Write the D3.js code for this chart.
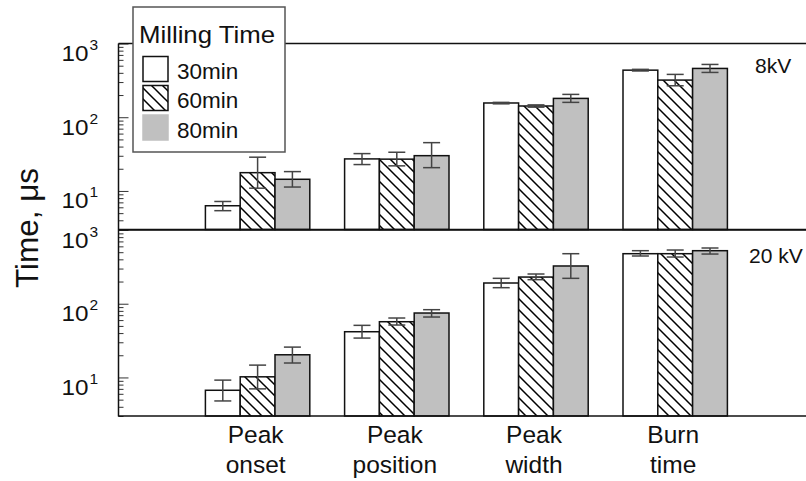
<!DOCTYPE html>
<html>
<head>
<meta charset="utf-8">
<script src="https://cdn.jsdelivr.net/npm/d3@7/dist/d3.min.js"></script>
<style>
  html, body { margin: 0; padding: 0; background: #fff; }
  svg { display: block; font-family: "Liberation Sans", Arial, Helvetica, sans-serif; }
</style>
</head>
<body>
<script>
// Burn characteristics vs. milling time, two ignition voltages
const categories = ["Peak onset", "Peak position", "Peak width", "Burn time"];
const categoryLines = [["Peak", "onset"], ["Peak", "position"], ["Peak", "width"], ["Burn", "time"]];
const series = ["30min", "60min", "80min"];
const panels = ["8kV", "20 kV"];

// 8 kV: mean and error bounds (µs), one array per milling time
const kv8_30 = [6.3, 27.2, 156, 435];
const kv8_60 = [17.7, 27.0, 142, 319];
const kv8_80 = [14.4, 30.1, 180, 459];
const kv8_30_lo = [5.4, 22.8, 152, 424];
const kv8_30_hi = [7.2, 32.1, 159, 446];
const kv8_60_lo = [10.9, 21.9, 137, 267];
const kv8_60_hi = [28.7, 33.5, 147, 381];
const kv8_80_lo = [11.3, 20.7, 159, 405];
const kv8_80_hi = [18.3, 45.2, 204, 520];

// 20 kV
const kv20_30 = [6.7, 41.7, 191, 477];
const kv20_60 = [10.2, 57.0, 230, 477];
const kv20_80 = [20.3, 74.8, 325, 524];
const kv20_30_lo = [4.8, 34.2, 165, 444];
const kv20_30_hi = [9.2, 50.9, 221, 524];
const kv20_60_lo = [7.0, 51.4, 212, 430];
const kv20_60_hi = [14.7, 64.0, 253, 535];
const kv20_80_lo = [15.7, 66.0, 221, 472];
const kv20_80_hi = [25.8, 83.0, 477, 570];

const yDomain = [3, 1000];
const majorTicks = [10, 100, 1000];
const tickExponents = ["1", "2", "3"];

const panelData = [
  { label: panels[0], means: [kv8_30, kv8_60, kv8_80], lo: [kv8_30_lo, kv8_60_lo, kv8_80_lo], hi: [kv8_30_hi, kv8_60_hi, kv8_80_hi] },
  { label: panels[1], means: [kv20_30, kv20_60, kv20_80], lo: [kv20_30_lo, kv20_60_lo, kv20_80_lo], hi: [kv20_30_hi, kv20_60_hi, kv20_80_hi] }
];

const W = 806, H = 481;
const left = 118.5, right = W;
const panelRanges = [[229.5, 43.5], [416, 230]];
const labelPos = [[755, 72.7], [749, 263]];

const svg = d3.select("body").append("svg").attr("width", W).attr("height", H);

// hatch pattern for the 60 min series
const defs = svg.append("defs");
const pat = defs.append("pattern")
  .attr("id", "hatch").attr("patternUnits", "userSpaceOnUse")
  .attr("width", 11).attr("height", 11);
pat.append("rect").attr("width", 11).attr("height", 11).attr("fill", "#fff");
pat.append("path").attr("d", "M0,0 L11,11 M-2,9 L2,13 M9,-2 L13,2")
  .attr("stroke", "#000").attr("stroke-width", 1.5);

const fills = ["#ffffff", "url(#hatch)", "#c0c0c0"];

const x0 = d3.scaleBand().domain(categories).range([188, 744.8]).paddingInner(0.25).paddingOuter(0.125);
const x1 = d3.scaleBand().domain(series).range([0, x0.bandwidth()]);

const minorTicks = [];
[1, 10, 100].forEach(d => { for (let k = 2; k <= 9; k++) { const v = k * d; if (v >= yDomain[0] && v <= yDomain[1]) minorTicks.push(v); } });

panelData.forEach((p, pi) => {
  const y = d3.scaleLog().domain(yDomain).range(panelRanges[pi]);
  const base = y(yDomain[0]);
  const g = svg.append("g");

  // bars
  series.forEach((s, si) => {
    g.selectAll(null).data(categories).join("rect")
      .attr("x", c => x0(c) + x1(s))
      .attr("y", (c, i) => y(p.means[si][i]))
      .attr("width", x1.bandwidth())
      .attr("height", (c, i) => base - y(p.means[si][i]))
      .attr("fill", fills[si])
      .attr("stroke", "#111").attr("stroke-width", 1.5);
  });

  // error bars
  series.forEach((s, si) => {
    const eg = g.selectAll(null).data(categories).join("g")
      .attr("transform", c => `translate(${x0(c) + x1(s) + x1.bandwidth() / 2},0)`)
      .attr("stroke", "#444").attr("stroke-width", 1.5);
    eg.append("line").attr("x1", 0).attr("x2", 0)
      .attr("y1", (c, i) => y(p.hi[si][i])).attr("y2", (c, i) => y(p.lo[si][i]));
    eg.append("line").attr("x1", -8.5).attr("x2", 8.5)
      .attr("y1", (c, i) => y(p.hi[si][i])).attr("y2", (c, i) => y(p.hi[si][i]));
    eg.append("line").attr("x1", -8.5).attr("x2", 8.5)
      .attr("y1", (c, i) => y(p.lo[si][i])).attr("y2", (c, i) => y(p.lo[si][i]));
  });

  // inward ticks on the left spine
  const ax = g.append("g").attr("transform", `translate(${left},0)`);
  ax.call(d3.axisRight(y).tickValues(majorTicks).tickSize(10).tickFormat(""));
  ax.append("g").call(d3.axisRight(y).tickValues(minorTicks).tickSize(5).tickFormat(""));
  ax.selectAll(".domain").remove();
  ax.selectAll(".tick line").attr("stroke", "#333").attr("stroke-width", 1);

  // tick labels 10^n
  majorTicks.forEach((t, ti) => {
    g.append("text").attr("x", 61.5).attr("y", y(t) + 17.5)
      .attr("font-size", 22).attr("textLength", 27).attr("lengthAdjust", "spacingAndGlyphs")
      .attr("fill", "#111").text("10");
    g.append("text").attr("x", 89.5).attr("y", y(t) + 6.5)
      .attr("font-size", 15.5).attr("fill", "#111").text(tickExponents[ti]);
  });

  // horizontal frame lines
  g.append("line").attr("x1", left).attr("x2", right).attr("y1", panelRanges[pi][0]).attr("y2", panelRanges[pi][0])
    .attr("stroke", "#111").attr("stroke-width", 1.5);
  g.append("line").attr("x1", left).attr("x2", right).attr("y1", panelRanges[pi][1]).attr("y2", panelRanges[pi][1])
    .attr("stroke", "#111").attr("stroke-width", 1.5);

  // voltage label
  g.append("text").attr("x", labelPos[pi][0]).attr("y", labelPos[pi][1])
    .attr("font-size", 21).attr("fill", "#111").text(p.label);
});

// left spine
svg.append("line").attr("x1", left).attr("x2", left).attr("y1", 43.5).attr("y2", 416.5)
  .attr("stroke", "#111").attr("stroke-width", 1.5);

// category labels
categories.forEach((c, i) => {
  const cx = x0(c) + x0.bandwidth() / 2 - 2;
  const t = svg.append("text").attr("text-anchor", "middle").attr("font-size", 24.5).attr("fill", "#111");
  t.append("tspan").attr("x", cx).attr("y", 443).text(categoryLines[i][0]);
  t.append("tspan").attr("x", cx).attr("y", 473).text(categoryLines[i][1]);
});

// y-axis title
svg.append("text").attr("transform", "translate(38,228) rotate(-90)")
  .attr("text-anchor", "middle").attr("font-size", 31.5).attr("fill", "#111").text("Time, μs");

// legend
const lg = svg.append("g");
lg.append("rect").attr("x", 133).attr("y", 7).attr("width", 152).attr("height", 145)
  .attr("fill", "#fff").attr("stroke", "#555").attr("stroke-width", 1.5);
lg.append("text").attr("x", 139).attr("y", 42.5).attr("font-size", 24.5)
  .attr("textLength", 136).attr("lengthAdjust", "spacingAndGlyphs").attr("fill", "#111").text("Milling Time");
const legendY = [56.5, 85.5, 115];
series.forEach((s, si) => {
  lg.append("rect").attr("x", 143).attr("y", legendY[si]).attr("width", 25).attr("height", 25)
    .attr("fill", fills[si]).attr("stroke", si === 2 ? "#c0c0c0" : "#111").attr("stroke-width", 1.5);
  lg.append("text").attr("x", 177).attr("y", legendY[si] + 22.5).attr("font-size", 22.5).attr("fill", "#111").text(s);
});
</script>
</body>
</html>
